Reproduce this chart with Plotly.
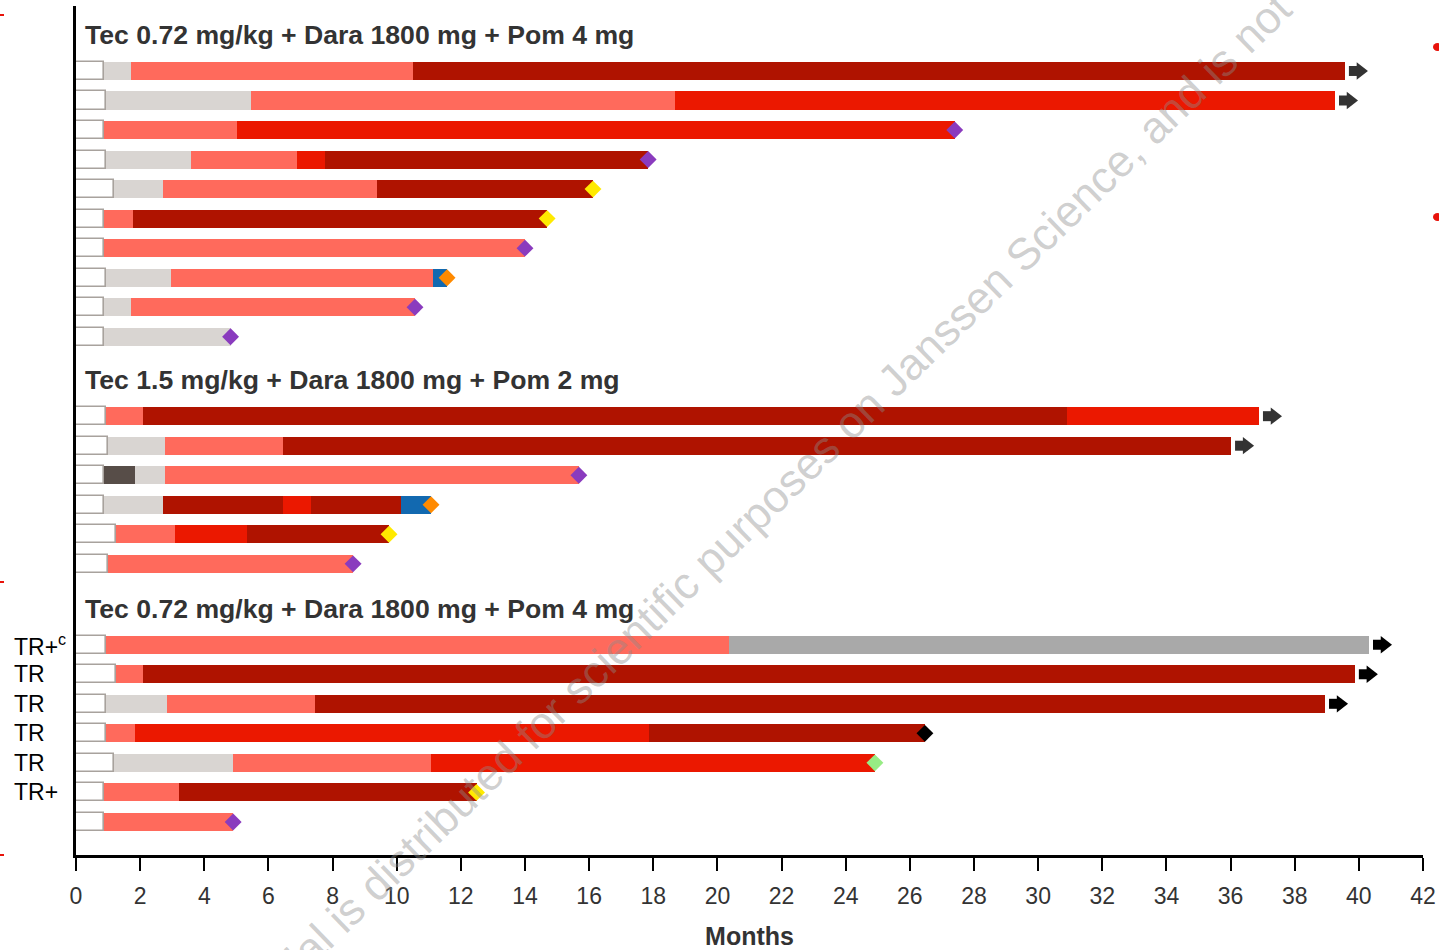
import plotly.graph_objects as go

# ---------------- data ----------------
# segment end points (months) and segment categories per patient, one list per group
# categories: W = screening (white box), L = light grey, K = dark grey, S = salmon,
#             R = red, D = dark red, B = blue, G = grey
g1_ends = [
    [0.88, 1.71, 10.5, 39.57],
    [0.94, 5.46, 18.68, 39.26],
    [0.88, 5.02, 27.4],
    [0.94, 3.59, 6.89, 7.76, 17.84],
    [1.19, 2.71, 9.39, 16.12],
    [0.88, 1.78, 14.69],
    [0.88, 14.0],
    [0.94, 2.96, 11.13, 11.57],
    [0.88, 1.71, 10.57],
    [0.88, 4.82],
]
g1_cats = [
    ["W", "L", "S", "D"],
    ["W", "L", "S", "R"],
    ["W", "S", "R"],
    ["W", "L", "S", "R", "D"],
    ["W", "L", "S", "D"],
    ["W", "S", "D"],
    ["W", "S"],
    ["W", "L", "S", "B"],
    ["W", "L", "S"],
    ["W", "L"],
]
g1_end_marks = ["arrow", "arrow", "purple", "purple", "yellow", "yellow", "purple", "orange", "purple", "purple"]

g2_ends = [
    [0.94, 2.09, 30.9, 36.89],
    [1.0, 2.78, 6.45, 36.02],
    [0.88, 1.84, 2.78, 15.68],
    [0.88, 2.71, 6.45, 7.33, 10.13, 11.07],
    [1.26, 3.09, 5.33, 9.76],
    [1.0, 8.64],
]
g2_cats = [
    ["W", "S", "D", "R"],
    ["W", "L", "S", "D"],
    ["W", "K", "L", "S"],
    ["W", "L", "D", "R", "D", "B"],
    ["W", "S", "R", "D"],
    ["W", "S"],
]
g2_end_marks = ["arrow", "arrow", "purple", "orange", "yellow", "purple"]

g3_ends = [
    [0.94, 20.36, 40.32],
    [1.25, 2.09, 39.88],
    [0.94, 2.84, 7.45, 38.95],
    [0.94, 1.84, 17.87, 26.47],
    [1.19, 4.9, 11.07, 24.91],
    [0.88, 3.21, 12.49],
    [0.88, 4.9],
]
g3_cats = [
    ["W", "S", "G"],
    ["W", "S", "D"],
    ["W", "L", "S", "D"],
    ["W", "S", "R", "D"],
    ["W", "L", "S", "R"],
    ["W", "S", "D"],
    ["W", "S"],
]
g3_end_marks = ["arrow_k", "arrow_k", "arrow_k", "black", "green", "yellow", "purple"]
g3_row_labels = ["TR+<sup>c</sup>", "TR", "TR", "TR", "TR", "TR+", ""]

group_titles = [
    "Tec 0.72 mg/kg + Dara 1800 mg + Pom 4 mg",
    "Tec 1.5 mg/kg + Dara 1800 mg + Pom 2 mg",
    "Tec 0.72 mg/kg + Dara 1800 mg + Pom 4 mg",
]

x_ticks = list(range(0, 43, 2))
x_title = "Months"
watermark = "material is distributed for scientific purposes on Janssen Science, and is not"

# ---------------- styles ----------------
seg_colors = {
    "W": "#FFFFFF", "L": "#D9D5D2", "K": "#574D48", "S": "#FF6A5C",
    "R": "#EB1800", "D": "#AF1300", "B": "#1269B0", "G": "#A9A9A9",
}
diamond_colors = {
    "purple": "#8A3BBE", "yellow": "#FFEA00", "orange": "#FF8A00",
    "black": "#000000", "green": "#97EC84",
}
arrow_colors = {"arrow": "#333333", "arrow_k": "#000000"}
FONT = "Liberation Sans, Arial, sans-serif"

# ---------------- layout of rows ----------------
groups = [(g1_ends, g1_cats, g1_end_marks), (g2_ends, g2_cats, g2_end_marks), (g3_ends, g3_cats, g3_end_marks)]
group_gaps = [0.0, 2.69, 2.74]
rows = []        # (y, ends, cats, mark)
title_y = []
group_first_y = []
pos = 0.0
for gi, (ends_l, cats_l, marks_l) in enumerate(groups):
    if gi > 0:
        pos += group_gaps[gi]
    group_first_y.append(pos)
    title_y.append(pos - 1.22)
    for k in range(len(ends_l)):
        rows.append((pos, ends_l[k], cats_l[k], marks_l[k]))
        pos += 1
    pos -= 1
y_top = -2.2
y_bottom = pos + 1.12
BAR_W = 0.61

fig = go.Figure()

# bars, one trace per category
for cat in ["W", "L", "K", "S", "R", "D", "B", "G"]:
    ys, bases, lens = [], [], []
    for (y, ends, cats, mark) in rows:
        start = 0.0
        for e, c in zip(ends, cats):
            if c == cat:
                ys.append(y)
                bases.append(start)
                lens.append(e - start)
            start = e
    if not ys:
        continue
    line = dict(color="#A8A29D", width=1.6) if cat == "W" else dict(width=0)
    fig.add_trace(go.Bar(
        orientation="h", y=ys, x=lens, base=bases, width=BAR_W,
        marker=dict(color=seg_colors[cat], line=line),
        showlegend=False, hoverinfo="skip",
    ))

# end markers: arrows (ongoing) and diamonds
for akey, acol in arrow_colors.items():
    lx, ly, hx, hy = [], [], [], []
    for (y, ends, cats, mark) in rows:
        if mark == akey:
            end = ends[-1]
            lx += [end + 0.12, end + 0.5, None]
            ly += [y, y, None]
            hx.append(end + 0.48)
            hy.append(y)
    fig.add_trace(go.Scatter(x=lx, y=ly, mode="lines", line=dict(color=acol, width=10),
                             showlegend=False, hoverinfo="skip"))
    fig.add_trace(go.Scatter(x=hx, y=hy, mode="markers",
                             marker=dict(symbol="triangle-right", size=15, color=acol, line=dict(width=0)),
                             showlegend=False, hoverinfo="skip"))

for dkey, dcol in diamond_colors.items():
    dx, dy = [], []
    for (y, ends, cats, mark) in rows:
        if mark == dkey:
            dx.append(ends[-1])
            dy.append(y)
    if dx:
        fig.add_trace(go.Scatter(x=dx, y=dy, mode="markers",
                                 marker=dict(symbol="diamond", size=13, color=dcol, line=dict(width=0)),
                                 showlegend=False, hoverinfo="skip"))

annotations = []
for t, ty in zip(group_titles, title_y):
    annotations.append(dict(text="<b>" + t + "</b>", xref="paper", x=7 / 1347, xanchor="left",
                            yref="y", y=ty, yanchor="middle", showarrow=False,
                            font=dict(family=FONT, size=26.6, color="#333333")))
g3_start = group_first_y[2]
for k, lab in enumerate(g3_row_labels):
    if lab:
        annotations.append(dict(text=lab, xref="paper", x=-64 / 1347, xanchor="left",
                                yref="y", y=g3_start + k, yanchor="middle", showarrow=False,
                                font=dict(family=FONT, size=23, color="#000000")))
annotations.append(dict(text=watermark, xref="paper", yref="paper", x=(747 - 76) / 1347, y=(855 - 522) / 849,
                        textangle=-44.2, showarrow=False,
                        font=dict(family=FONT, size=44.6, color="rgba(140,140,140,0.42)")))

# small red crop marks at the picture edges (decoration)
red = "#E8130B"
shapes = []
for py in [47, 217]:
    shapes.append(dict(type="circle", xref="paper", yref="paper", fillcolor=red, line=dict(width=0),
                       x0=(1433 - 76) / 1347, x1=(1442 - 76) / 1347,
                       y0=(855 - py - 4) / 849, y1=(855 - py + 4) / 849))
for py in [15, 582, 855]:
    shapes.append(dict(type="rect", xref="paper", yref="paper", fillcolor=red, line=dict(width=0),
                       x0=(0 - 76) / 1347, x1=(4 - 76) / 1347,
                       y0=(855 - py - 1) / 849, y1=(855 - py + 1) / 849))

fig.update_layout(
    width=1439, height=950,
    margin=dict(l=76, r=16, t=6, b=95),
    paper_bgcolor="white", plot_bgcolor="white",
    barmode="overlay", bargap=0,
    showlegend=False,
    annotations=annotations,
    shapes=shapes,
    font=dict(family=FONT),
    xaxis=dict(
        range=[0, 42], tickvals=x_ticks, ticktext=[str(v) for v in x_ticks],
        automargin=False,
        showgrid=False, zeroline=False, showline=True, linecolor="#000000", linewidth=3,
        ticks="outside", ticklen=13, tickwidth=2, tickcolor="#000000",
        ticklabelstandoff=5,
        tickfont=dict(family=FONT, size=23, color="#333333"),
        title=dict(text="<b>" + x_title + "</b>", font=dict(family=FONT, size=25, color="#333333"), standoff=23),
    ),
    yaxis=dict(
        range=[y_bottom, y_top], showticklabels=False, showgrid=False, zeroline=False,
        automargin=False,
        showline=True, linecolor="#000000", linewidth=3, ticks="",
    ),
)

fig.write_html("out.html", config={"displayModeBar": False},
               post_script="document.body.style.margin='0';document.body.style.overflow='hidden';")
